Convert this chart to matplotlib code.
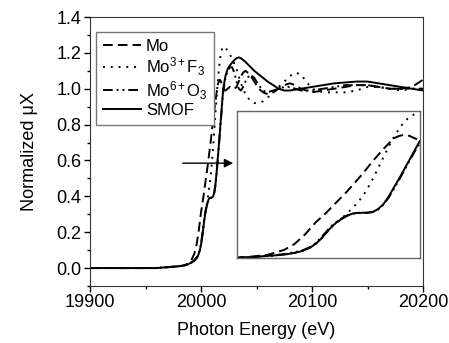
import matplotlib
matplotlib.use("Agg")
import matplotlib.pyplot as plt
from matplotlib.ticker import MultipleLocator

plt.rcParams['font.family'] = ['Liberation Sans', 'DejaVu Sans']
plt.rcParams['mathtext.fontset'] = 'custom'
plt.rcParams['mathtext.rm'] = 'Liberation Sans'
plt.rcParams['mathtext.it'] = 'Liberation Sans:italic'

# ===== Daten =====
energy = [19900, 19920, 19940, 19960, 19970, 19980, 19985, 19988, 19991, 19994,
          19996, 19997, 19998, 19999, 20000, 20001, 20002, 20003, 20004, 20005,
          20006, 20007, 20008, 20009, 20010, 20011, 20012, 20013, 20014, 20015,
          20016, 20017, 20018, 20019, 20020, 20022, 20024, 20026, 20028, 20030,
          20032, 20034, 20036, 20038, 20040, 20044, 20048, 20052, 20056, 20060,
          20065, 20070, 20075, 20080, 20085, 20090, 20095, 20100, 20110, 20120,
          20130, 20140, 20150, 20160, 20170, 20180, 20190, 20200]

mu_mo = [0.0, 0.0, 0.0, 0.0, 0.005, 0.01, 0.015, 0.025, 0.04, 0.08,
         0.13, 0.17, 0.21, 0.26, 0.31, 0.35, 0.39, 0.435, 0.48, 0.525,
         0.57, 0.62, 0.67, 0.72, 0.775, 0.83, 0.88, 0.93, 0.975, 1.02,
         1.04, 1.05, 1.04, 1.02, 1.0, 0.99, 1.0, 1.01, 1.0, 1.0,
         1.01, 1.04, 1.07, 1.09, 1.1, 1.08, 1.04, 1.0, 0.98, 0.97,
         0.98, 1.0, 1.02, 1.03, 1.02, 1.0, 0.99, 0.98, 0.99, 1.0,
         1.01, 1.02, 1.02, 1.01, 1.0, 1.0, 1.01, 1.05]

mu_mof3 = [0.0, 0.0, 0.0, 0.0, 0.005, 0.01, 0.015, 0.02, 0.03, 0.04,
           0.055, 0.065, 0.08, 0.10, 0.13, 0.17, 0.22, 0.27, 0.31, 0.345,
           0.385, 0.43, 0.475, 0.53, 0.6, 0.68, 0.77, 0.86, 0.95, 1.03,
           1.1, 1.16, 1.2, 1.225, 1.235, 1.23, 1.21, 1.19, 1.17, 1.14,
           1.11, 1.07, 1.03, 1.0, 0.97, 0.935, 0.92, 0.92, 0.93, 0.95,
           0.98, 1.01, 1.04, 1.07, 1.09, 1.08, 1.04, 1.0, 0.98, 0.98,
           0.98, 0.99, 1.01, 1.01, 1.0, 0.99, 1.0, 1.0]

mu_moo3 = [0.0, 0.0, 0.0, 0.0, 0.005, 0.01, 0.015, 0.02, 0.03, 0.045,
           0.06, 0.07, 0.085, 0.105, 0.135, 0.18, 0.23, 0.28, 0.315, 0.345,
           0.37, 0.385, 0.39, 0.39, 0.392, 0.40, 0.42, 0.46, 0.52, 0.595,
           0.67, 0.75, 0.83, 0.91, 0.98, 1.06, 1.1, 1.12, 1.12, 1.09,
           1.04, 1.0, 0.99, 1.01, 1.04, 1.08, 1.06, 1.02, 0.99, 0.98,
           0.99, 1.0, 1.01, 1.01, 1.0, 0.99, 0.99, 0.99, 1.0, 1.01,
           1.02, 1.02, 1.02, 1.01, 1.0, 1.0, 1.0, 1.0]

mu_smof = [0.0, 0.0, 0.0, 0.0, 0.005, 0.01, 0.015, 0.02, 0.03, 0.04,
           0.055, 0.065, 0.08, 0.10, 0.13, 0.17, 0.22, 0.27, 0.31, 0.34,
           0.365, 0.385, 0.392, 0.393, 0.395, 0.40, 0.425, 0.465, 0.53, 0.605,
           0.68, 0.76, 0.84, 0.92, 1.0, 1.07, 1.11, 1.13, 1.145, 1.16,
           1.17, 1.175, 1.17, 1.16, 1.15, 1.125, 1.1, 1.08, 1.06, 1.04,
           1.02, 1.0, 0.99, 0.99, 0.995, 1.0, 1.005, 1.01, 1.02, 1.03,
           1.035, 1.04, 1.04, 1.03, 1.02, 1.01, 1.0, 0.99]

labels = ['Mo', 'Mo$^{3+}$F$_3$', 'Mo$^{6+}$O$_3$', 'SMOF']

styles = [(0, (5, 2.6)), (0, (1, 3)), (0, (5, 2, 1, 2, 1, 2)), '-']

# ===== Plot =====
fig = plt.figure(figsize=(4.49, 3.43), dpi=100)
ax = fig.add_axes([90 / 449, 1 - 286 / 343, 333 / 449, 269 / 343])
ins = fig.add_axes([237 / 449, 1 - 258 / 343, 183 / 449, 147 / 343])

series = [mu_mo, mu_mof3, mu_moo3, mu_smof]
for a in (ax, ins):
    for y, ls, lab in zip(series, styles, labels):
        a.plot(energy, y, color='black', lw=1.4, linestyle=ls, label=lab,
               solid_joinstyle='round', dash_joinstyle='round')

ax.set_xlim(19900, 20200)
ax.set_ylim(-0.1, 1.4)
ax.xaxis.set_major_locator(MultipleLocator(100))
ax.xaxis.set_minor_locator(MultipleLocator(50))
ax.yaxis.set_major_locator(MultipleLocator(0.2))
ax.yaxis.set_minor_locator(MultipleLocator(0.1))
ax.tick_params(which='major', direction='out', length=4, width=1, labelsize=13, pad=2)
ax.tick_params(which='minor', direction='out', length=2.5, width=1)
ax.set_yticks([0.0, 0.2, 0.4, 0.6, 0.8, 1.0, 1.2, 1.4])
ax.set_yticklabels(['0.0', '0.2', '0.4', '0.6', '0.8', '1.0', '1.2', '1.4'])
for s in ax.spines.values():
    s.set_color('#333333')
ax.set_xlabel('Photon Energy (eV)', fontsize=13, labelpad=8)
ax.set_ylabel('Normalized μX', fontsize=13, labelpad=13)

leg = ax.legend(loc='upper left', bbox_to_anchor=(0.018, 0.944), fontsize=12,
                handlelength=2.3, labelspacing=0.08, borderpad=0.4,
                handletextpad=0.3, fancybox=False, framealpha=1,
                borderaxespad=0)
leg.get_frame().set_edgecolor('#777777')
leg.get_frame().set_linewidth(1)

# Inset
ins.set_xlim(19985, 20020)
ins.set_ylim(0.012, 1.25)
ins.set_xticks([])
ins.set_yticks([])
for s in ins.spines.values():
    s.set_color('#666666')
    s.set_linewidth(1)

# Pfeil
ax.annotate('', xy=(20031.5, 0.585), xytext=(19981, 0.585),
            arrowprops=dict(arrowstyle='-|>', color='black', lw=1, mutation_scale=13))

fig.savefig('out.png', dpi=100)
